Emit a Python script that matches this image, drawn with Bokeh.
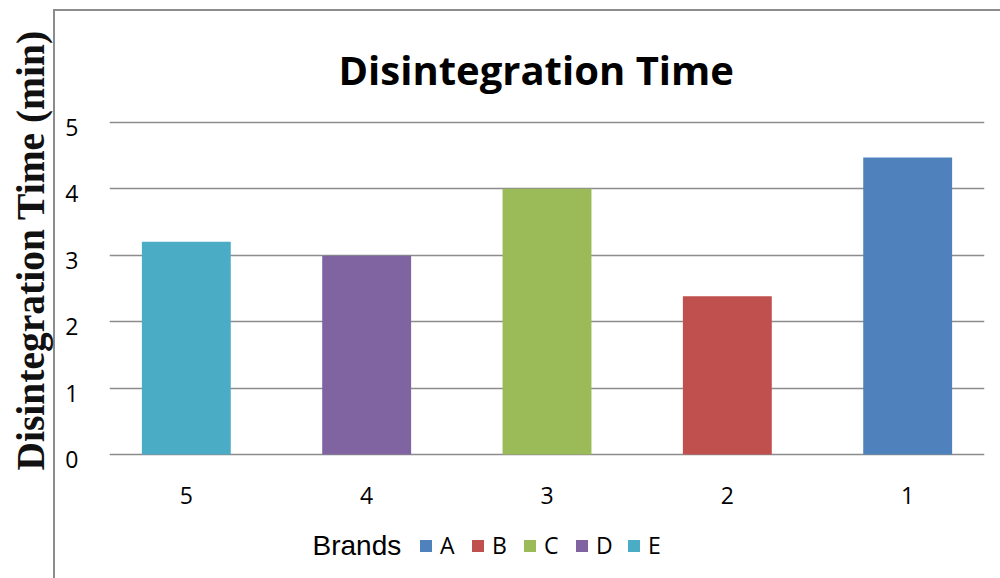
from bokeh.core.properties import value
from bokeh.embed import file_html
from bokeh.models import (ColumnDataSource, FixedTicker, Grid, Label, Legend,
                          LegendItem, LinearAxis, Range1d, Title)
from bokeh.plotting import figure
from bokeh.resources import INLINE

# Disintegration time per tablet brand
brands = ["A", "B", "C", "D", "E"]
sample_no = [1, 2, 3, 4, 5]
sample_labels = ["1", "2", "3", "4", "5"]
times_min = [4.47, 2.38, 4.0, 2.99, 3.2]
colors = ["#4F81BD", "#C0504D", "#9BBB59", "#8064A2", "#4BACC6"]
y_ticks = [0, 1, 2, 3, 4, 5]

source = ColumnDataSource(dict(x=sample_no, t=times_min, brand=brands,
                               color=colors, lab=sample_labels))

BOX = "#8c8c8c"
Y0, Y1 = -1.865, 5.056
LABEL_Y = -0.62          # row of category labels under the bars

p = figure(
    width=1000, height=578,
    x_range=Range1d(5.426, 0.574),   # sample 5 on the left, 1 on the right
    y_range=Range1d(Y0, Y1),
    x_axis_location=None, y_axis_location=None,
    output_backend="svg", toolbar_location=None,
    min_border_left=109, min_border_right=16,
    min_border_top=118, min_border_bottom=0,
    outline_line_color=None,
    background_fill_color=None, border_fill_color=None,
)
# chart-area box: left and top edges of the outer frame
p.styles = {
    "background-color": "white",
    "background-image": f"linear-gradient({BOX}, {BOX}), linear-gradient({BOX}, {BOX})",
    "background-position": "53px 9px, 53px 9px",
    "background-size": "2px 100%, 100% 2px",
    "background-repeat": "no-repeat",
}

# horizontal gridlines only
for g in p.grid:
    g.visible = False
p.add_layout(Grid(dimension=1, ticker=FixedTicker(ticks=y_ticks),
                  grid_line_color=BOX, grid_line_width=1.7))

bars = p.vbar(x="x", top="t", bottom=0, width=0.493, source=source,
              fill_color="color", line_color=None)

# category labels
p.text(x="x", y=LABEL_Y, text="lab", source=source,
       text_font=value("Open Sans"), text_font_size="23px", text_color="black",
       text_align="center", text_baseline="middle")

# title
p.title.text = "Disintegration Time"
p.title.align = "left"
p.title.offset = 229
p.title.text_font = "Open Sans"
p.title.text_font_style = "bold"
p.title.text_font_size = "40px"
p.title.text_color = "black"
p.title.standoff = 44

# y axis: the labels sit a little below their gridlines
shift = 0.075
p.extra_y_ranges = {"ylab": Range1d(Y0 + shift, Y1 + shift)}
ylab_axis = LinearAxis(y_range_name="ylab", ticker=FixedTicker(ticks=y_ticks))
ylab_axis.axis_line_color = None
ylab_axis.major_tick_line_color = None
ylab_axis.minor_tick_line_color = None
ylab_axis.major_label_text_font = "Open Sans"
ylab_axis.major_label_text_font_size = "23px"
ylab_axis.major_label_text_color = "black"
ylab_axis.major_label_standoff = 25
p.add_layout(ylab_axis, "left")

# y-axis title, outside the chart box
p.add_layout(Title(
    text="Disintegration Time (min)", align="left", offset=108,
    vertical_align="top", standoff=16,
    text_font="Liberation Serif", text_font_style="bold",
    text_font_size="39.5px", text_color="#111111",
), "left")

# legend
p.add_layout(Label(
    x=203, y=33, x_units="screen", y_units="screen", text="Brands",
    text_font="Liberation Sans", text_font_size="28px", text_color="black",
    text_align="left", text_baseline="middle",
))
items = [LegendItem(label=b, renderers=[bars], index=i) for i, b in enumerate(brands)]
lg = Legend(
    items=items, orientation="horizontal", location=(309, 17),
    glyph_width=15, glyph_height=15, label_standoff=7, label_width=20,
    spacing=10, padding=0, margin=0,
    border_line_color=None, background_fill_alpha=0,
    label_text_font="Open Sans", label_text_font_size="23px",
    label_text_color="black",
)
p.add_layout(lg)

open("out.html", "w").write(file_html(p, INLINE))
